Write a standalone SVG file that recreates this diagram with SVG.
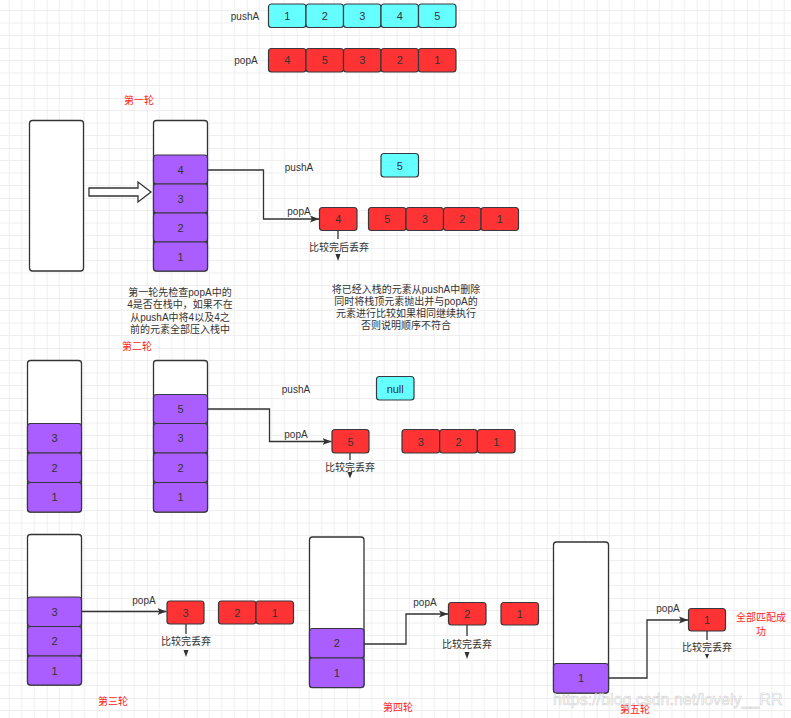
<svg xmlns="http://www.w3.org/2000/svg" width="791" height="718" viewBox="0 0 791 718">
<defs>
<pattern id="grid" x="46.7" y="48" width="50" height="50" patternUnits="userSpaceOnUse">
<path d="M12.5,0V50M25,0V50M37.5,0V50M0,12.5H50M0,25H50M0,37.5H50" stroke="#efefef" stroke-width="1" fill="none"/>
<path d="M0,0V50M0,0H50" stroke="#e0e0e0" stroke-width="1" fill="none"/>
</pattern>
<marker id="arr" markerUnits="userSpaceOnUse" markerWidth="10" markerHeight="8" refX="9" refY="4" orient="auto">
<path d="M0,0.5 L9,4 L0,7.5 L2,4 z" fill="#333"/>
</marker>
</defs>
<style>
.stack{fill:#fff;stroke:#333;stroke-width:1.3}
.cy{fill:#66ffff;stroke:#36393d;stroke-width:1.2}
.rd{fill:#ff3333;stroke:#36393d;stroke-width:1.2}
.pu{fill:#aa5eff;stroke:#36393d;stroke-width:1.2}
.n{font-family:"Liberation Sans",Arial,sans-serif;font-size:11px;fill:#333;text-anchor:middle;dominant-baseline:central}
.lb{font-family:"Liberation Sans",Arial,sans-serif;font-size:10px;fill:#333;text-anchor:middle;dominant-baseline:central}
.cn{font-family:"Liberation Sans","Noto Sans CJK SC",sans-serif;font-size:10px;fill:#333;text-anchor:middle;dominant-baseline:central}
.red{font-family:"Noto Sans CJK SC",sans-serif;font-size:10px;fill:#ff2222;text-anchor:middle;dominant-baseline:central}
.ln{fill:none;stroke:#333;stroke-width:1.3}
</style>
<rect width="791" height="718" fill="#fff"/>
<rect width="791" height="718" fill="url(#grid)"/>

<g id="top-pushA">
<text class="lb" x="245" y="16">pushA</text>
<rect class="cy" x="268.5" y="4" width="37.5" height="23.5" rx="3"/><text class="n" x="287.2" y="16">1</text>
<rect class="cy" x="306" y="4" width="37.5" height="23.5" rx="3"/><text class="n" x="324.7" y="16">2</text>
<rect class="cy" x="343.5" y="4" width="37.5" height="23.5" rx="3"/><text class="n" x="362.2" y="16">3</text>
<rect class="cy" x="381" y="4" width="37.5" height="23.5" rx="3"/><text class="n" x="399.7" y="16">4</text>
<rect class="cy" x="418.5" y="4" width="37.5" height="23.5" rx="3"/><text class="n" x="437.2" y="16">5</text>
</g>
<g id="top-popA">
<text class="lb" x="246" y="60">popA</text>
<rect class="rd" x="268.5" y="48.5" width="37.5" height="23.5" rx="3"/><text class="n" x="287.2" y="60">4</text>
<rect class="rd" x="306" y="48.5" width="37.5" height="23.5" rx="3"/><text class="n" x="324.7" y="60">5</text>
<rect class="rd" x="343.5" y="48.5" width="37.5" height="23.5" rx="3"/><text class="n" x="362.2" y="60">3</text>
<rect class="rd" x="381" y="48.5" width="37.5" height="23.5" rx="3"/><text class="n" x="399.7" y="60">2</text>
<rect class="rd" x="418.5" y="48.5" width="37.5" height="23.5" rx="3"/><text class="n" x="437.2" y="60">1</text>
</g>

<text class="red" x="139" y="99">第一轮</text>
<g id="r1-empty"><rect class="stack" x="29.5" y="120.5" width="54" height="150.5" rx="3"/></g>
<g id="r1-bigarrow"><path d="M89,188 H138 V182 L151,192 L138,202 V196 H89 Z" fill="#fff" stroke="#333" stroke-width="1.3"/></g>
<g id="r1-stack">
<rect class="stack" x="153.5" y="120.5" width="54" height="150.5" rx="3"/>
<rect class="pu" x="153.5" y="155" width="54" height="29" rx="3"/><text class="n" x="180.5" y="169.5">4</text>
<rect class="pu" x="153.5" y="184" width="54" height="29" rx="3"/><text class="n" x="180.5" y="198.5">3</text>
<rect class="pu" x="153.5" y="213" width="54" height="29" rx="3"/><text class="n" x="180.5" y="227.5">2</text>
<rect class="pu" x="153.5" y="242" width="54" height="29" rx="3"/><text class="n" x="180.5" y="256.5">1</text>
</g>
<g id="r1-note">
<text class="cn" x="180" y="292">第一轮先检查popA中的</text>
<text class="cn" x="180" y="304.5">4是否在栈中，如果不在</text>
<text class="cn" x="180" y="317">从pushA中将4以及4之</text>
<text class="cn" x="180" y="329.5">前的元素全部压入栈中</text>
</g>
<g id="r1-push">
<text class="lb" x="299" y="167">pushA</text>
<rect class="cy" x="381" y="153.5" width="37.5" height="23.5" rx="3"/><text class="n" x="399.7" y="165.5">5</text>
</g>
<g id="r1-pop">
<text class="lb" x="299" y="211">popA</text>
<rect class="rd" x="319.5" y="207.5" width="37.5" height="23" rx="3"/><text class="n" x="338.2" y="219">4</text>
<rect class="rd" x="368.5" y="207.5" width="37.5" height="23" rx="3"/><text class="n" x="387.2" y="219">5</text>
<rect class="rd" x="406" y="207.5" width="37.5" height="23" rx="3"/><text class="n" x="424.7" y="219">3</text>
<rect class="rd" x="443.5" y="207.5" width="37.5" height="23" rx="3"/><text class="n" x="462.2" y="219">2</text>
<rect class="rd" x="481" y="207.5" width="37.5" height="23" rx="3"/><text class="n" x="499.7" y="219">1</text>
<text class="cn" x="339" y="247">比较完后丢弃</text>
</g>
<g id="r1-note2">
<text class="cn" x="406" y="289">将已经入栈的元素从pushA中删除</text>
<text class="cn" x="406" y="301.5">同时将栈顶元素抛出并与popA的</text>
<text class="cn" x="406" y="313.5">元素进行比较如果相同继续执行</text>
<text class="cn" x="406" y="325.5">否则说明顺序不符合</text>
</g>

<text class="red" x="137" y="345">第二轮</text>
<g id="r2-left">
<rect class="stack" x="27.5" y="360.5" width="54" height="151.5" rx="3"/>
<rect class="pu" x="27.5" y="423.5" width="54" height="29.5" rx="3"/><text class="n" x="54.5" y="438">3</text>
<rect class="pu" x="27.5" y="453" width="54" height="29.5" rx="3"/><text class="n" x="54.5" y="467.5">2</text>
<rect class="pu" x="27.5" y="482.5" width="54" height="29.5" rx="3"/><text class="n" x="54.5" y="497">1</text>
</g>
<g id="r2-stack">
<rect class="stack" x="153.5" y="360.5" width="54" height="151.5" rx="3"/>
<rect class="pu" x="153.5" y="394.5" width="54" height="29" rx="3"/><text class="n" x="180.5" y="409">5</text>
<rect class="pu" x="153.5" y="423.5" width="54" height="29.5" rx="3"/><text class="n" x="180.5" y="438">3</text>
<rect class="pu" x="153.5" y="453" width="54" height="29.5" rx="3"/><text class="n" x="180.5" y="467.5">2</text>
<rect class="pu" x="153.5" y="482.5" width="54" height="29.5" rx="3"/><text class="n" x="180.5" y="497">1</text>
</g>
<g id="r2-push">
<text class="lb" x="296" y="389">pushA</text>
<rect class="cy" x="376.5" y="376.5" width="37.5" height="23.5" rx="3"/><text class="n" x="395.2" y="388.5">null</text>
</g>
<g id="r2-pop">
<text class="lb" x="296" y="434">popA</text>
<rect class="rd" x="332" y="429.5" width="37" height="23.5" rx="3"/><text class="n" x="350.5" y="441.5">5</text>
<rect class="rd" x="402" y="429.5" width="37.7" height="23.5" rx="3"/><text class="n" x="420.8" y="441.5">3</text>
<rect class="rd" x="439.7" y="429.5" width="37.7" height="23.5" rx="3"/><text class="n" x="458.5" y="441.5">2</text>
<rect class="rd" x="477.4" y="429.5" width="37.7" height="23.5" rx="3"/><text class="n" x="496.2" y="441.5">1</text>
<text class="cn" x="350" y="467">比较完丢弃</text>
</g>

<g id="r3-stack">
<rect class="stack" x="27.5" y="534.5" width="54" height="150.5" rx="3"/>
<rect class="pu" x="27.5" y="597" width="54" height="29.5" rx="3"/><text class="n" x="54.5" y="611.5">3</text>
<rect class="pu" x="27.5" y="626.5" width="54" height="29.5" rx="3"/><text class="n" x="54.5" y="641">2</text>
<rect class="pu" x="27.5" y="656" width="54" height="29" rx="3"/><text class="n" x="54.5" y="670.5">1</text>
</g>
<g id="r3-pop">
<text class="lb" x="144" y="600">popA</text>
<rect class="rd" x="167" y="601" width="37" height="23" rx="3"/><text class="n" x="185.5" y="612.5">3</text>
<rect class="rd" x="218.5" y="601" width="37.5" height="23" rx="3"/><text class="n" x="237.2" y="612.5">2</text>
<rect class="rd" x="256" y="601" width="37.5" height="23" rx="3"/><text class="n" x="274.7" y="612.5">1</text>
<text class="cn" x="186" y="641.5">比较完丢弃</text>
</g>
<text class="red" x="113" y="700">第三轮</text>

<g id="r4-stack">
<rect class="stack" x="309.5" y="537" width="54.5" height="150.5" rx="3"/>
<rect class="pu" x="309.5" y="628.5" width="54.5" height="29.5" rx="3"/><text class="n" x="336.7" y="643">2</text>
<rect class="pu" x="309.5" y="658" width="54.5" height="29.5" rx="3"/><text class="n" x="336.7" y="672.5">1</text>
</g>
<g id="r4-pop">
<text class="lb" x="425" y="602">popA</text>
<rect class="rd" x="448.5" y="602.5" width="37.5" height="22.5" rx="3"/><text class="n" x="467.2" y="613.7">2</text>
<rect class="rd" x="501" y="602.5" width="37.5" height="22.5" rx="3"/><text class="n" x="519.7" y="613.7">1</text>
<text class="cn" x="467" y="644">比较完丢弃</text>
</g>
<text class="red" x="398" y="706.5">第四轮</text>

<g id="r5-stack">
<rect class="stack" x="553.5" y="542" width="55" height="151" rx="3"/>
<rect class="pu" x="553.5" y="663.5" width="55" height="29.5" rx="3"/><text class="n" x="581" y="678">1</text>
</g>
<g id="r5-pop">
<text class="lb" x="668" y="608.5">popA</text>
<rect class="rd" x="688.5" y="608.5" width="37" height="22.5" rx="3"/><text class="n" x="707" y="619.7">1</text>
<text class="cn" x="707" y="647">比较完丢弃</text>
</g>
<g id="r5-done">
<text class="red" x="761" y="616">全部匹配成</text>
<text class="red" x="761" y="630">功</text>
</g>
<text class="red" x="635" y="708">第五轮</text>

<g id="connectors">
<path class="ln" d="M208,170 H263.5 V219 H319" marker-end="url(#arr)"/>
<path class="ln" d="M208,409 H269.5 V441.5 H331.5" marker-end="url(#arr)"/>
<path class="ln" d="M82,611.5 H166.5" marker-end="url(#arr)"/>
<path class="ln" d="M364,644 H406 V614 H448" marker-end="url(#arr)"/>
<path class="ln" d="M609,678 H647 V620 H688" marker-end="url(#arr)"/>
<path class="ln" d="M338,230.5 V239"/><path d="M335.5,254 L340.5,254 L338,261 Z" fill="#333"/>
<path class="ln" d="M350,453 V460"/><path d="M347.5,472 L352.5,472 L350,478.5 Z" fill="#333"/>
<path class="ln" d="M186,624 V634"/><path d="M183.5,650 L188.5,650 L186,657 Z" fill="#333"/>
<path class="ln" d="M467,625 V636"/><path d="M464.5,652 L469.5,652 L467,659 Z" fill="#333"/>
<path class="ln" d="M707,631 V640"/><path d="M705,654 L709,654 L707,659 Z" fill="#333"/>
</g>

<text x="553" y="705" font-family="'Liberation Sans',Arial,sans-serif" font-size="16" fill="#ffffff" fill-opacity="0.6" stroke="#bbbbbb" stroke-width="0.6" stroke-opacity="0.7">https://blog.csdn.net/lovely__RR</text>
</svg>
